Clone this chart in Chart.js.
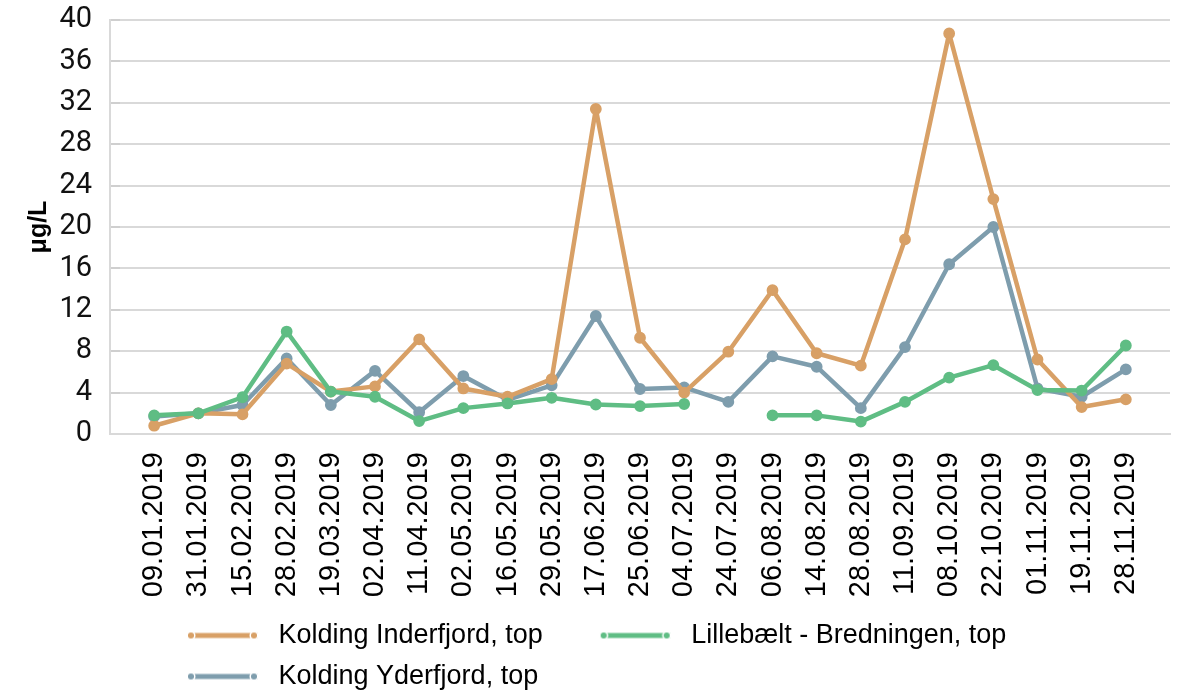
<!DOCTYPE html>
<html>
<head>
<meta charset="utf-8">
<script src="https://cdn.jsdelivr.net/npm/chart.js@4.4.1/dist/chart.umd.min.js"></script>
<style>
html,body{margin:0;padding:0;background:#fff;}
#wrap{width:1178px;height:695px;position:relative;}
</style>
</head>
<body>
<div id="wrap"><canvas id="c"></canvas></div>
<script>
const dates = ['09.01.2019','31.01.2019','15.02.2019','28.02.2019','19.03.2019','02.04.2019','11.04.2019','02.05.2019','16.05.2019','29.05.2019','17.06.2019','25.06.2019','04.07.2019','24.07.2019','06.08.2019','14.08.2019','28.08.2019','11.09.2019','08.10.2019','22.10.2019','01.11.2019','19.11.2019','28.11.2019'];
const inderfjord = [0.8,2.0,1.9,6.8,4.1,4.6,9.15,4.4,3.6,5.3,31.4,9.3,4.0,7.95,13.9,7.8,6.6,18.8,38.7,22.7,7.2,2.6,3.35];
const lillebaelt = [1.8,2.0,3.55,9.9,4.1,3.6,1.25,2.5,2.95,3.5,2.85,2.7,2.9,null,1.8,1.8,1.2,3.1,5.45,6.65,4.25,4.2,8.55];
const yderfjord = [1.7,2.0,2.8,7.3,2.8,6.1,2.1,5.6,3.3,4.7,11.4,4.35,4.5,3.1,7.5,6.5,2.5,8.4,16.4,20.0,4.4,3.6,6.25];
const seriesNames = ['Kolding Inderfjord, top','Lillebælt - Bredningen, top','Kolding Yderfjord, top'];
const yTicks = [0,4,8,12,16,20,24,28,32,36,40];

const colors = ['#d8a066','#5fbd84','#7e9dad'];

function legendSymbol(color){
  const c = document.createElement('canvas');
  c.width = 121; c.height = 14;
  const g = c.getContext('2d');
  g.strokeStyle = color; g.lineWidth = 5; g.lineCap = 'butt';
  g.beginPath(); g.moveTo(44,7); g.lineTo(114,7); g.stroke();
  [47,110].forEach(x=>{
    g.beginPath(); g.arc(x,7,3.8,0,Math.PI*2);
    g.fillStyle = color; g.fill();
    g.lineWidth = 1.5; g.strokeStyle = '#ffffff'; g.stroke();
  });
  return c;
}
const symbols = colors.map(legendSymbol);

const toXY = arr => arr.map((v,i)=>({x:i,y:v}));

const legendShift = {
  id:'legendShift',
  afterLayout(chart){
    if(chart.legend){ chart.legend.left += 20; chart.legend.right += 20; }
  }
};

new Chart(document.getElementById('c'), {
  type:'line',
  data:{
    datasets:[
      {label:seriesNames[0], data:toXY(inderfjord), borderColor:colors[0], backgroundColor:colors[0], pointBackgroundColor:colors[0], order:1},
      {label:seriesNames[1], data:toXY(lillebaelt), borderColor:colors[1], backgroundColor:colors[1], pointBackgroundColor:colors[1], order:0},
      {label:seriesNames[2], data:toXY(yderfjord), borderColor:colors[2], backgroundColor:colors[2], pointBackgroundColor:colors[2], order:2}
    ]
  },
  options:{
    responsive:true,
    maintainAspectRatio:false,
    animation:false,
    spanGaps:false,
    layout:{padding:{top:20,right:8,bottom:0,left:0}},
    elements:{
      line:{borderWidth:4.5, tension:0, borderJoinStyle:'round', borderCapStyle:'round'},
      point:{radius:5, borderWidth:1.8, borderColor:'#ffffff', pointStyle:'circle'}
    },
    scales:{
      x:{
        type:'linear', min:-1, max:23,
        grid:{display:false, drawTicks:false},
        border:{display:true, color:'#d9d9d9', width:2},
        ticks:{
          stepSize:1, autoSkip:false, maxRotation:90, minRotation:90, padding:18,
          color:'#000', font:{family:'"Liberation Sans", Arial, sans-serif', size:29},
          callback:(v)=> (Number.isInteger(v) && dates[v]) ? dates[v] : ''
        },
        afterFit:(s)=>{ s.height = 174; s.paddingLeft = 0; s.paddingRight = 0; }
      },
      y:{
        min:0, max:40,
        grid:{
          color:(ctx)=> (yTicks.includes(ctx.tick.value)) ? '#d9d9d9' : 'rgba(0,0,0,0)',
          tickColor:'#cfcfcf', lineWidth:2, tickLength:-10, tickWidth:2
        },
        border:{display:true, color:'#d9d9d9', width:2},
        ticks:{
          stepSize:2, padding:28, color:'#111',
          font:{family:'Roboto, "Liberation Sans", sans-serif', size:29},
          callback:(v)=> yTicks.includes(v) ? String(v) : ''
        },
        title:{display:true, text:'μg/L', color:'#000', padding:{top:24,bottom:0},
          font:{family:'"Liberation Sans", Arial, sans-serif', size:25, weight:'bold'}},
        afterFit:(s)=>{ s.width = 110; s.paddingTop = 0; s.paddingBottom = 0; }
      }
    },
    plugins:{
      tooltip:{enabled:false},
      legend:{
        position:'bottom', align:'start', fullSize:false, maxHeight:87,
        labels:{
          usePointStyle:true, pointStyleWidth:121, padding:14, color:'#000',
          font:{family:'"Liberation Sans", Arial, sans-serif', size:27},
          sort:(a,b)=>a.datasetIndex-b.datasetIndex,
          generateLabels:(chart)=>{
            const items = Chart.defaults.plugins.legend.labels.generateLabels(chart);
            items.forEach(it=>{ it.pointStyle = symbols[it.datasetIndex]; });
            return items;
          }
        }
      }
    }
  },
  plugins:[legendShift]
});
</script>
</body>
</html>
